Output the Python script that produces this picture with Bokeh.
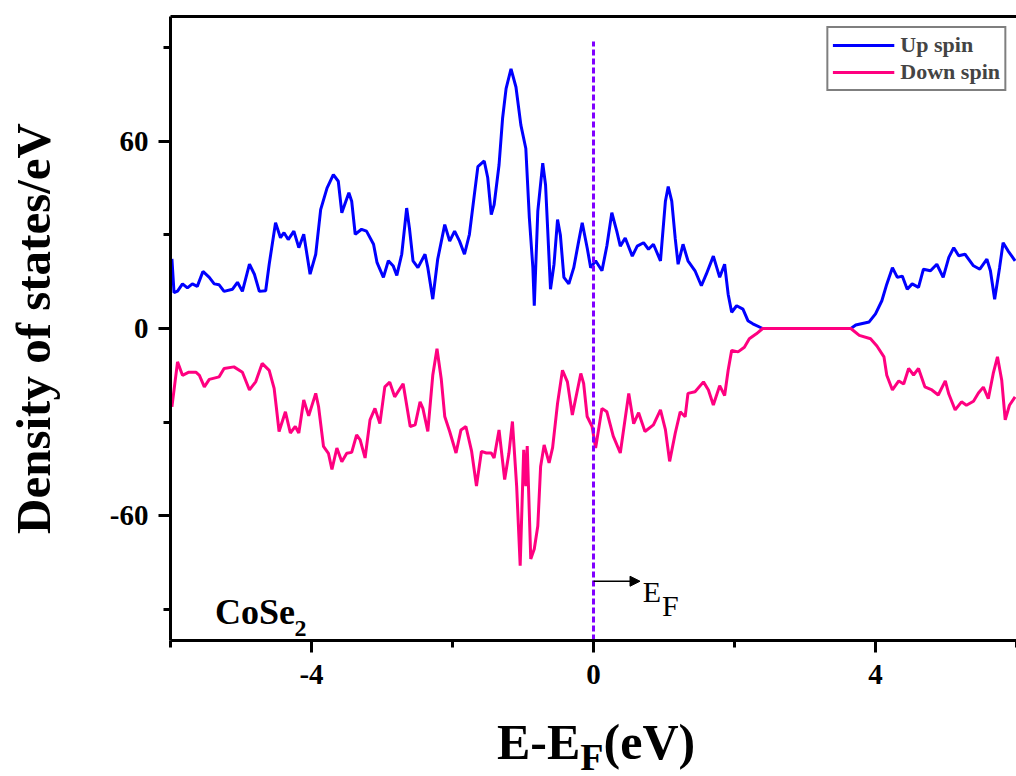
from bokeh.plotting import figure
from bokeh.layouts import column
from bokeh.models import Range1d, FixedTicker, LinearAxis, Label, Arrow, NormalHead, Div
from bokeh.embed import file_html
from bokeh.resources import INLINE

# ---- data ----
up_energy = [-5.98, -5.95, -5.90, -5.83, -5.76, -5.69, -5.62, -5.54, -5.45, -5.38, -5.31, -5.24,
             -5.12, -5.05, -4.98, -4.88, -4.81, -4.74, -4.65, -4.60, -4.51, -4.44, -4.39, -4.33,
             -4.25, -4.18, -4.11, -4.02, -3.94, -3.87, -3.78, -3.69, -3.62, -3.57, -3.47, -3.43,
             -3.38, -3.29, -3.22, -3.12, -3.07, -2.98, -2.91, -2.84, -2.79, -2.72, -2.65, -2.61,
             -2.56, -2.49, -2.39, -2.35, -2.28, -2.21, -2.11, -2.04, -1.97, -1.90, -1.83, -1.76,
             -1.69, -1.64, -1.55, -1.50, -1.45, -1.41, -1.34, -1.29, -1.24, -1.17, -1.10, -1.03,
             -0.96, -0.91, -0.86, -0.84, -0.79, -0.72, -0.68, -0.65, -0.61, -0.56, -0.51, -0.47,
             -0.42, -0.35, -0.28, -0.21, -0.16, -0.09, -0.04, 0.03, 0.12, 0.19, 0.26, 0.33,
             0.38, 0.45, 0.55, 0.62, 0.71, 0.78, 0.85, 0.95, 1.02, 1.06, 1.11, 1.16,
             1.20, 1.27, 1.34, 1.44, 1.53, 1.60, 1.70, 1.79, 1.86, 1.91, 1.96, 2.03,
             2.12, 2.19, 2.26, 2.40, 3.65, 3.72, 3.91, 4.00, 4.09, 4.16, 4.24, 4.31,
             4.38, 4.45, 4.52, 4.61, 4.68, 4.78, 4.87, 4.96, 5.04, 5.11, 5.18, 5.27,
             5.39, 5.48, 5.58, 5.63, 5.69, 5.76, 5.81, 5.88, 5.98]
up_dos = [22.3, 11.5, 12.0, 14.3, 13.0, 14.3, 13.5, 18.3, 16.4, 14.3, 14.0, 11.9,
          12.6, 14.8, 11.9, 20.6, 17.4, 11.9, 12.1, 20.6, 33.9, 29.1, 30.7, 28.5,
          31.2, 25.9, 30.2, 17.4, 23.8, 38.1, 45.0, 49.3, 47.2, 37.1, 43.5, 40.8,
          30.2, 31.8, 31.2, 27.0, 21.1, 16.4, 21.7, 20.0, 17.0, 23.8, 38.6, 32.0,
          21.7, 19.5, 23.8, 19.5, 9.4, 22.2, 33.3, 28.0, 31.2, 28.0, 23.8, 30.2,
          42.9, 51.9, 53.7, 48.3, 36.5, 39.6, 52.4, 67.3, 76.9, 83.2, 77.4, 65.2,
          57.7, 35.5, 19.5, 7.3, 37.6, 53.0, 46.0, 31.8, 12.6, 20.6, 34.9, 30.0,
          16.4, 14.3, 19.5, 28.0, 33.9, 25.9, 19.5, 21.7, 18.5, 26.5, 37.1, 31.2,
          26.4, 29.0, 23.2, 26.4, 27.5, 25.4, 27.0, 21.7, 40.8, 45.5, 40.8, 28.7,
          20.6, 27.0, 21.7, 18.5, 13.7, 17.4, 23.2, 16.4, 20.6, 11.0, 5.2, 7.3,
          6.2, 2.5, 1.5, 0.0, 0.0, 1.1, 2.1, 4.7, 8.9, 14.2, 19.5, 16.4,
          16.8, 12.6, 14.3, 13.2, 19.0, 18.5, 20.6, 16.4, 22.8, 25.9, 23.3, 23.8,
          20.1, 19.0, 22.2, 18.5, 9.4, 19.5, 27.5, 24.9, 21.7]

down_energy = [-5.98, -5.90, -5.83, -5.74, -5.64, -5.59, -5.52, -5.45, -5.31, -5.24, -5.10, -4.98,
               -4.88, -4.79, -4.70, -4.60, -4.53, -4.50, -4.46, -4.37, -4.30, -4.23, -4.18, -4.11,
               -4.04, -3.94, -3.90, -3.83, -3.76, -3.71, -3.64, -3.57, -3.50, -3.43, -3.36, -3.31,
               -3.24, -3.17, -3.10, -3.03, -2.96, -2.89, -2.82, -2.70, -2.60, -2.53, -2.46, -2.42,
               -2.35, -2.28, -2.22, -2.16, -2.11, -2.04, -1.95, -1.88, -1.81, -1.73, -1.66, -1.59,
               -1.52, -1.45, -1.41, -1.34, -1.26, -1.20, -1.15, -1.09, -1.04, -0.99, -0.96, -0.94,
               -0.89, -0.84, -0.79, -0.75, -0.70, -0.63, -0.58, -0.51, -0.44, -0.37, -0.30, -0.18,
               -0.14, -0.09, -0.02, 0.03, 0.12, 0.19, 0.28, 0.38, 0.50, 0.57, 0.64, 0.73,
               0.85, 0.95, 1.02, 1.08, 1.16, 1.23, 1.30, 1.34, 1.44, 1.56, 1.63, 1.70,
               1.79, 1.86, 1.91, 1.96, 2.05, 2.14, 2.21, 2.31, 2.40, 3.65, 3.77, 3.93,
               4.02, 4.12, 4.16, 4.24, 4.33, 4.40, 4.47, 4.54, 4.61, 4.70, 4.80, 4.89,
               4.99, 5.04, 5.13, 5.22, 5.29, 5.39, 5.46, 5.53, 5.60, 5.67, 5.73, 5.79,
               5.84, 5.90, 5.98]
down_dos = [-25.1, -10.7, -15.0, -14.0, -14.0, -15.0, -18.7, -16.3, -15.5, -12.8, -12.3, -14.0,
            -19.7, -17.0, -11.2, -13.4, -19.2, -25.0, -33.0, -26.7, -33.5, -31.4, -33.5, -22.9,
            -28.0, -20.8, -25.0, -37.8, -40.0, -45.2, -38.3, -42.7, -40.0, -39.7, -34.1, -35.7,
            -41.5, -29.3, -25.6, -30.5, -18.7, -17.2, -21.9, -17.7, -31.4, -30.9, -23.5, -25.6,
            -33.0, -15.0, -6.5, -16.1, -28.2, -33.0, -39.9, -32.5, -31.4, -39.2, -50.5, -39.4,
            -39.9, -39.9, -41.5, -32.5, -48.4, -40.0, -29.8, -50.5, -76.0, -38.9, -50.5, -37.7,
            -73.9, -70.7, -63.3, -44.2, -37.3, -43.1, -38.2, -24.0, -13.4, -17.1, -27.7, -14.4,
            -17.6, -28.2, -31.4, -38.3, -25.6, -26.7, -34.5, -39.9, -20.8, -30.5, -27.0, -33.0,
            -30.9, -26.1, -32.4, -42.6, -33.5, -26.7, -28.3, -20.8, -20.3, -17.1, -19.7, -24.5,
            -18.3, -21.5, -13.4, -7.0, -7.5, -6.0, -3.3, -1.7, 0.0, 0.0, -2.2, -3.3,
            -5.6, -9.1, -15.0, -19.7, -16.8, -17.8, -12.8, -14.9, -12.8, -18.7, -19.7, -21.3,
            -16.8, -21.0, -26.1, -23.5, -24.6, -23.3, -20.7, -18.8, -22.5, -14.4, -9.1, -16.5,
            -29.3, -24.6, -21.9]

x_ticks = [-4, 0, 4]
x_tick_labels = ["-4", "0", "4"]
x_minor = [-6, -2, 2, 6]
y_ticks = [-60, 0, 60]
y_tick_labels = ["-60", "0", "60"]
y_minor = [-90, -30, 30, 90]
series_names = ["Up spin", "Down spin"]
series_colors = ["#0000FF", "#FF0080"]

FONT = "Liberation Serif"

p = figure(width=1016, height=708, x_range=Range1d(-6, 6), y_range=Range1d(-100, 100),
           output_backend="svg", toolbar_location=None,
           min_border_left=170, min_border_right=0, min_border_top=16, min_border_bottom=68)
p.outline_line_color = None
p.grid.visible = False
p.background_fill_color = "white"

# curves
p.line(up_energy, up_dos, line_color=series_colors[0], line_width=3, legend_label=series_names[0])
p.line(down_energy, down_dos, line_color=series_colors[1], line_width=3, legend_label=series_names[1])

# Fermi level dashed line
p.segment(x0=[0], y0=[-100], x1=[0], y1=[92], line_color="#8000FF", line_width=3, line_dash="6 3")

# axes styling
for ax, ticks, labels, minor in ((p.xaxis[0], x_ticks, x_tick_labels, x_minor),
                                 (p.yaxis[0], y_ticks, y_tick_labels, y_minor)):
    ax.ticker = FixedTicker(ticks=ticks, minor_ticks=minor)
    ax.major_label_overrides = {t: l for t, l in zip(ticks, labels)}
    ax.axis_line_width = 3
    ax.axis_line_color = "black"
    ax.major_tick_line_width = 3
    ax.minor_tick_line_width = 3
    ax.major_tick_in = 0
    ax.minor_tick_in = 0
    ax.major_tick_out = 12
    ax.minor_tick_out = 7
    ax.major_label_text_font = FONT
    ax.major_label_text_font_style = "bold"
    ax.major_label_text_font_size = "29px"
    ax.major_label_text_color = "black"

p.xaxis[0].major_label_standoff = 12
p.yaxis[0].major_label_standoff = 10

p.yaxis[0].axis_label = "Density of states/eV"
p.yaxis[0].axis_label_text_font = FONT
p.yaxis[0].axis_label_text_font_style = "bold"
p.yaxis[0].axis_label_text_font_size = "49px"
p.yaxis[0].axis_label_standoff = 46
p.yaxis[0].axis_label_text_color = "black"

# top border as an axis without ticks
top = LinearAxis(ticker=FixedTicker(ticks=[]), axis_line_width=3, axis_line_color="black",
                 major_tick_line_color=None, minor_tick_line_color=None,
                 major_label_text_font_size="0px", major_label_standoff=0)
p.add_layout(top, "above")

# CoSe2 label
p.add_layout(Label(x=-5.37, y=-90.8, text="CoSe", text_font=FONT, text_font_style="bold",
                   text_font_size="36px", text_baseline="alphabetic", text_color="black"))
p.add_layout(Label(x=-4.24, y=-96.2, text="2", text_font=FONT, text_font_style="bold",
                   text_font_size="24px", text_baseline="alphabetic", text_color="black"))

# E_F arrow and label
p.add_layout(Arrow(x_start=0, y_start=-81, x_end=0.66, y_end=-81, line_width=1.5, line_color="black",
                   end=NormalHead(size=10, fill_color="black", line_color="black")))
p.add_layout(Label(x=0.70, y=-84.4, text="E", text_font=FONT, text_font_size="30px",
                   text_baseline="alphabetic", text_color="black"))
p.add_layout(Label(x=0.97, y=-88.9, text="F", text_font=FONT, text_font_size="30px",
                   text_baseline="alphabetic", text_color="black"))

# legend
lg = p.legend[0]
lg.location = "top_right"
lg.margin = 10
lg.padding = 4
lg.spacing = 1
lg.glyph_width = 62
lg.label_standoff = 6
lg.label_text_font = FONT
lg.label_text_font_style = "bold"
lg.label_text_font_size = "22px"
lg.border_line_color = "black"
lg.border_line_width = 2
lg.background_fill_alpha = 1

# x-axis title with subscript F (HTML text under the plot)
xtitle = Div(
    text=('<div style="font-family:\'Liberation Serif\';font-weight:bold;font-size:50px;'
          'line-height:50px;color:black;margin-left:492px;margin-top:4px;white-space:nowrap;">'
          'E-E<span style="font-size:38px;position:relative;top:11px;">F</span>(eV)</div>'),
    width=1016, height=66)

open("out.html", "w").write(file_html(column(p, xtitle, spacing=0), INLINE))
